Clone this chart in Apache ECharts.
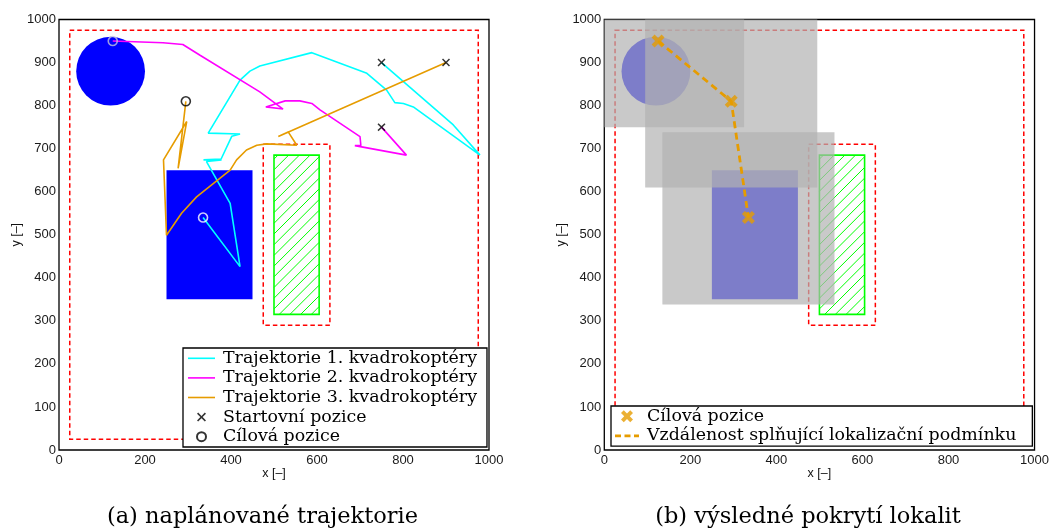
<!DOCTYPE html>
<html>
<head>
<meta charset="utf-8">
<script src="https://cdn.jsdelivr.net/npm/echarts@6/dist/echarts.min.js"></script>
<style>
  html, body { margin: 0; padding: 0; background: #fff; }
  #chart { width: 1052px; height: 532px; }
</style>
</head>
<body>
<div id="chart"></div>
<script>
// ---- map geometry (units of the workspace, 0..1000) ----
const outerLimit   = [[25, 25, 975, 975]];          // allowed flight area
const targetZone   = [[500, 315, 605, 685]];        // hatched target area
const targetMargin = [[475, 290, 630, 710]];        // safety margin round the target
const blockRect    = [[250, 350, 450, 650]];        // rectangular obstacle
const blockCircle  = [[120, 880, 80]];              // circular obstacle: cx, cy, r

const startPositions = [[750, 900], [900, 900], [750, 750]];
const goalPositions  = [[125, 950], [295, 810], [335, 540]];
const goalRingColors = ['#c4c4dc', '#000000', '#ffffff'];

// sensor footprints around the reached positions: x0, y0, x1, y1
const coverage = [[-75, 750, 325, 1150], [95, 610, 495, 1010], [135, 338, 535, 738]];

// planned trajectories
const traj1 = [[750, 900], [917, 755], [979, 685], [824, 797], [801, 805], [781, 807],
  [762, 836], [716, 875], [588, 923], [467, 892], [444, 880], [421, 859], [347, 736],
  [421, 734], [402, 729], [377, 676], [336, 674], [378, 674], [343, 670], [398, 573],
  [421, 426], [335, 540]];
const traj2 = [[750, 750], [808, 685], [688, 707], [702, 707], [700, 728], [607, 790],
  [588, 805], [560, 811], [526, 811], [481, 797], [521, 792], [467, 832], [328, 917],
  [288, 942], [242, 946], [125, 950]];
const traj3 = [[900, 900], [510, 728], [533, 739], [553, 708], [483, 711], [460, 708],
  [436, 697], [413, 674], [398, 650], [320, 588], [285, 550], [250, 499], [243, 674],
  [297, 763], [277, 654], [295, 810]];

const legendText = {
  traj1: 'Trajektorie 1. kvadrokoptéry',
  traj2: 'Trajektorie 2. kvadrokoptéry',
  traj3: 'Trajektorie 3. kvadrokoptéry',
  start: 'Startovní pozice',
  goalA: 'Cílová pozice',
  goalB: 'Cílová pozice',
  path:  'Vzdálenost splňující lokalizační podmínku'
};
const captions = ['(a) naplánované trajektorie', '(b) výsledné pokrytí lokalit'];

// ---- styling ----
const CYAN = '#00ffff', MAGENTA = '#ff00ff', ORANGE = '#e69c00';
const RED = '#ff0000', GREEN = '#00ff00', BLUE = '#0000ff';
const serif = 'DejaVu Serif, serif';
const sans = 'Liberation Sans, Arial, sans-serif';
const crossThin  = 'path://M0,1.3L1.3,0L5,3.7L8.7,0L10,1.3L6.3,5L10,8.7L8.7,10L5,6.3L1.3,10L0,8.7L3.7,5Z';
const crossThick = 'path://M0,2.3L2.3,0L5,2.7L7.7,0L10,2.3L7.3,5L10,7.7L7.7,10L5,7.3L2.3,10L0,7.7L2.7,5Z';
const lineIcon   = 'path://M0,0H27V1.6H0Z';
const dashIcon   = 'path://M0,0H6V2.8H0ZM9.5,0H15.5V2.8H9.5ZM19,0H24V2.8H19Z';

function rectShape(api, clampToAxis) {
  let x0 = api.value(0), y0 = api.value(1), x1 = api.value(2), y1 = api.value(3);
  if (clampToAxis) {
    const c = v => Math.max(0, Math.min(1000, v));
    x0 = c(x0); y0 = c(y0); x1 = c(x1); y1 = c(y1);
  }
  const a = api.coord([x0, y1]);
  const b = api.coord([x1, y0]);
  return { x: a[0], y: a[1], width: b[0] - a[0], height: b[1] - a[1] };
}

function dashedRectSeries(data, gi) {
  return {
    type: 'custom', xAxisIndex: gi, yAxisIndex: gi, data, z: 2, silent: true,
    encode: { x: [0, 2], y: [1, 3] },
    renderItem: (p, api) => ({
      type: 'rect', shape: rectShape(api),
      style: { fill: 'none', stroke: RED, lineWidth: 1.5, lineDash: [4.5, 3] }
    })
  };
}

function blockSeries(gi) {
  return [{
    type: 'custom', xAxisIndex: gi, yAxisIndex: gi, data: blockRect, z: 2, silent: true,
    encode: { x: [0, 2], y: [1, 3] },
    renderItem: (p, api) => ({ type: 'rect', shape: rectShape(api), style: { fill: BLUE } })
  }, {
    type: 'custom', xAxisIndex: gi, yAxisIndex: gi, data: blockCircle, z: 2, silent: true,
    encode: { x: 0, y: 1 },
    renderItem: (p, api) => {
      const c = api.coord([api.value(0), api.value(1)]);
      const r = api.size([api.value(2), 0])[0];
      return { type: 'circle', shape: { cx: c[0], cy: c[1], r }, style: { fill: BLUE } };
    }
  }];
}

function hatchedSeries(gi) {
  return {
    type: 'custom', xAxisIndex: gi, yAxisIndex: gi, data: targetZone, z: 2, silent: true,
    encode: { x: [0, 2], y: [1, 3] },
    renderItem: (p, api) => {
      const s = rectShape(api);
      const step = 10.7, children = [];
      for (let k = -s.height + 4; k < s.width; k += step) {
        const t0 = Math.max(0, -k), t1 = Math.min(s.height, s.width - k);
        if (t1 > t0) {
          children.push({
            type: 'line',
            shape: { x1: s.x + k + t0, y1: s.y + s.height - t0, x2: s.x + k + t1, y2: s.y + s.height - t1 },
            style: { stroke: GREEN, lineWidth: 1 }
          });
        }
      }
      children.push({ type: 'rect', shape: s, style: { fill: 'none', stroke: GREEN, lineWidth: 1.6 } });
      return { type: 'group', children };
    }
  };
}

function trajSeries(key, data, color) {
  return {
    type: 'line', name: key, xAxisIndex: 0, yAxisIndex: 0, data, symbol: 'none',
    lineStyle: { color, width: 1.6 }, itemStyle: { color }, z: 5, silent: true
  };
}

function axisPair(gi) {
  const label = { fontFamily: sans, fontSize: 13, color: '#1a1a1a', formatter: v => String(v) };
  const nameStyle = { fontFamily: sans, fontSize: 12.5, color: '#111' };
  return {
    x: { type: 'value', gridIndex: gi, min: 0, max: 1000, interval: 200,
         axisLine: { show: false }, axisTick: { show: false }, splitLine: { show: false },
         axisLabel: { ...label, margin: 4 },
         name: 'x [–]', nameLocation: 'middle', nameGap: 17, nameMoveOverlap: false,
         nameTextStyle: nameStyle },
    y: { type: 'value', gridIndex: gi, min: 0, max: 1000, interval: 100,
         axisLine: { show: false }, axisTick: { show: false }, splitLine: { show: false },
         axisLabel: { ...label, margin: 3 },
         name: 'y [–]', nameLocation: 'middle', nameGap: 33, nameTextStyle: nameStyle }
  };
}

const ax0 = axisPair(0), ax1 = axisPair(1);

const gridStyle = { show: true, borderColor: '#000', borderWidth: 1.3, backgroundColor: 'transparent' };
const legendFont = { fontFamily: serif, fontSize: 17.4, color: '#000', lineHeight: 19.6, padding: [0, 0, 0, 3] };

const option = {
  animation: false,
  grid: [
    { left: 59, top: 19.5, width: 430, height: 430.5, ...gridStyle },
    { left: 604.3, top: 19.5, width: 431, height: 430.5, ...gridStyle }
  ],
  xAxis: [ax0.x, ax1.x],
  yAxis: [ax0.y, ax1.y],
  legend: [{
    data: [
      { name: 'traj1', icon: lineIcon },
      { name: 'traj2', icon: lineIcon },
      { name: 'traj3', icon: lineIcon },
      { name: 'start' },
      { name: 'goalA' }
    ],
    formatter: n => legendText[n],
    orient: 'vertical', left: 183, top: 348,
    backgroundColor: '#fff', borderColor: '#000', borderWidth: 1.3, borderRadius: 0,
    padding: [0.5, 10, 0.5, 5], itemWidth: 27, itemHeight: 9, itemGap: 0,
    selectedMode: false, textStyle: legendFont
  }, {
    data: [
      { name: 'goalB' },
      { name: 'path', icon: dashIcon }
    ],
    formatter: n => legendText[n],
    orient: 'vertical', left: 611, top: 406,
    backgroundColor: '#fff', borderColor: '#000', borderWidth: 1.3, borderRadius: 0,
    padding: [0.5, 16, 0.5, 4], itemWidth: 24, itemHeight: 12, itemGap: 0,
    selectedMode: false, textStyle: legendFont
  }],
  graphic: [
    { type: 'text', x: 262.5, y: 517, style: { text: captions[0], fontFamily: serif, fontSize: 22.5, fill: '#000', align: 'center', verticalAlign: 'middle' } },
    { type: 'text', x: 808, y: 517, style: { text: captions[1], fontFamily: serif, fontSize: 22.5, fill: '#000', align: 'center', verticalAlign: 'middle' } }
  ],
  series: [
    // (a) planned trajectories
    dashedRectSeries(outerLimit, 0),
    dashedRectSeries(targetMargin, 0),
    ...blockSeries(0),
    hatchedSeries(0),
    trajSeries('traj1', traj1, CYAN),
    trajSeries('traj2', traj2, MAGENTA),
    trajSeries('traj3', traj3, ORANGE),
    {
      type: 'scatter', name: 'start', xAxisIndex: 0, yAxisIndex: 0, data: startPositions,
      symbol: crossThin, symbolSize: 8, itemStyle: { color: '#000' }, z: 6, silent: true
    },
    {
      type: 'scatter', name: 'goalA', xAxisIndex: 0, yAxisIndex: 0,
      data: goalPositions.map((v, i) => ({ value: v, itemStyle: { borderColor: goalRingColors[i] } })),
      symbol: 'circle', symbolSize: 9,
      itemStyle: { color: 'transparent', borderColor: '#000', borderWidth: 1.6 }, z: 6, silent: true
    },

    // (b) resulting coverage
    dashedRectSeries(outerLimit, 1),
    dashedRectSeries(targetMargin, 1),
    ...blockSeries(1),
    hatchedSeries(1),
    {
      type: 'custom', xAxisIndex: 1, yAxisIndex: 1, data: coverage, z: 3, silent: true,
      encode: { x: [0, 2], y: [1, 3] },
      renderItem: (p, api) => ({
        type: 'rect', shape: rectShape(api, true),
        style: { fill: 'rgba(178,178,178,0.7)' }
      })
    },
    {
      type: 'line', name: 'path', xAxisIndex: 1, yAxisIndex: 1, data: goalPositions, symbol: 'none',
      lineStyle: { color: ORANGE, width: 2.8, type: [7, 4.5] }, itemStyle: { color: ORANGE }, z: 5, silent: true
    },
    {
      type: 'scatter', name: 'goalB', xAxisIndex: 1, yAxisIndex: 1, data: goalPositions,
      symbol: crossThick, symbolSize: 13, itemStyle: { color: ORANGE }, z: 6, silent: true
    }
  ]
};

const chart = echarts.init(document.getElementById('chart'), null, { renderer: 'canvas' });
chart.setOption(option);
</script>
</body>
</html>
